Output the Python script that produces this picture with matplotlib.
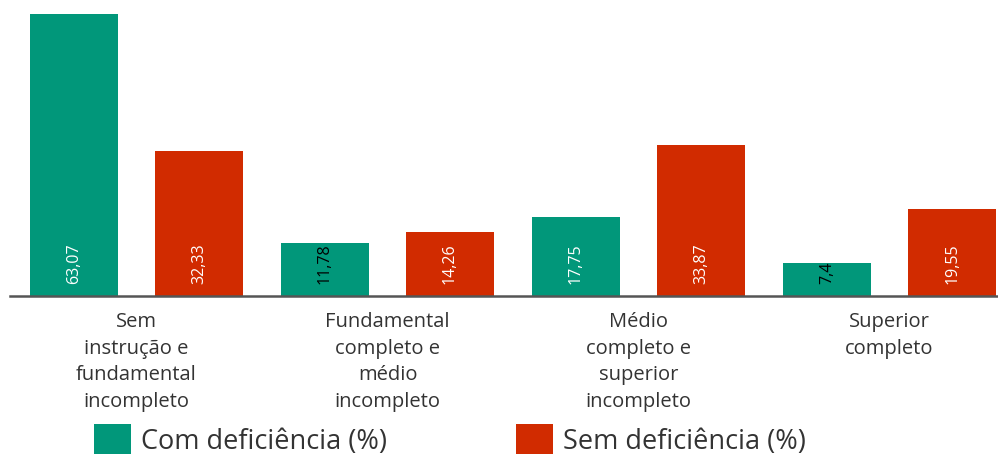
import matplotlib
matplotlib.use("Agg")
import matplotlib.pyplot as plt
from matplotlib.patches import Patch
import numpy as np

categories = ["Sem\ninstrução e\nfundamental\nincompleto",
              "Fundamental\ncompleto e\nmédio\nincompleto",
              "Médio\ncompleto e\nsuperior\nincompleto",
              "Superior\ncompleto"]
com_def = [63.07, 11.78, 17.75, 7.4]
sem_def = [32.33, 14.26, 33.87, 19.55]
com_labels = ["63,07", "11,78", "17,75", "7,4"]
sem_labels = ["32,33", "14,26", "33,87", "19,55"]
series_names = ["Com deficiência (%)", "Sem deficiência (%)"]

GREEN = "#01977A"
RED = "#D12B00"

plt.rcParams['font.family'] = ['Open Sans', 'DejaVu Sans']

W, H = 998, 456
fig = plt.figure(figsize=(W/100, H/100), dpi=100)
ax = fig.add_axes([10/W, (H-297)/H, 988/W, 297/H])

x = np.arange(len(categories))
bw = 0.35
off = 0.249
b1 = ax.bar(x - off, com_def, bw, color=GREEN)
b2 = ax.bar(x + off, sem_def, bw, color=RED)

ax.set_xlim(-0.504, 3.432)
ax.set_ylim(0, 66.4)

def label(bars, labels):
    for r, t in zip(bars, labels):
        h = r.get_height()
        col = "white" if h > 12 else "black"
        ax.annotate(t, (r.get_x() + r.get_width()/2, 0), xytext=(0, 13),
                    textcoords="offset pixels",
                    rotation=90, ha="center", va="bottom", color=col, fontsize=11.5)

label(b1, com_labels)
label(b2, sem_labels)

for s in ["top", "right", "left"]:
    ax.spines[s].set_visible(False)
ax.spines["bottom"].set_color("#555555")
ax.spines["bottom"].set_linewidth(1.8)
ax.set_yticks([])
ax.set_xticks(x)
ax.set_xticklabels(categories, fontsize=14.5, color="#333333", linespacing=1.43, va="top")
ax.tick_params(axis="x", length=0, pad=11)

handles = [Patch(facecolor=GREEN), Patch(facecolor=RED)]
fig.legend(handles, series_names, loc="upper left", bbox_to_anchor=(94/W, 1 - 425/H),
           ncol=2, frameon=False, fontsize=19.5, handlelength=1.37, handleheight=1.35,
           columnspacing=4.75, handletextpad=0.37, labelcolor="#333333",
           borderaxespad=0, borderpad=0)

fig.savefig("out.png", dpi=100)
